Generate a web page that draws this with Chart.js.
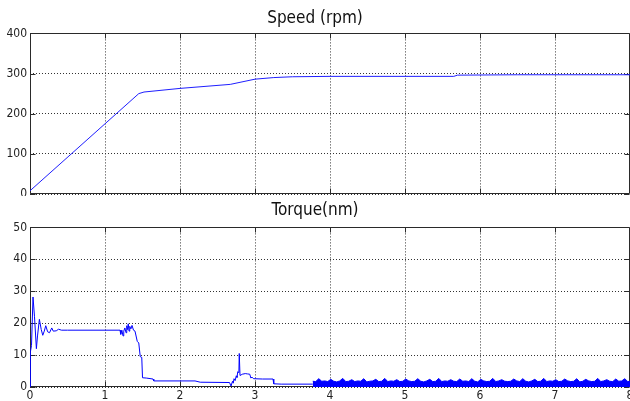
<!DOCTYPE html>
<html><head><meta charset="utf-8">
<script src="https://cdn.jsdelivr.net/npm/chart.js@4.4.1/dist/chart.umd.min.js"></script>
<style>
html,body{margin:0;padding:0;background:#fff;width:630px;height:401px;overflow:hidden}
#c1{position:absolute;left:0;top:0}
#c2{position:absolute;left:0;top:196px}
</style>
</head><body>
<canvas id="c1" width="630" height="196"></canvas>
<canvas id="c2" width="630" height="205"></canvas>
<script>
// ---- data ----
const speedTitle = "Speed (rpm)";
const torqueTitle = "Torque(nm)";
const speedT = [0, 1.45, 1.52, 2.0, 2.67, 3.0, 3.25, 3.5, 4.0, 5.65, 5.7, 6.5, 8.0];
const speedV = [8, 250, 254, 263, 273, 286, 290, 292, 293, 293, 296, 297, 297];

const torqueT = [0, 0.005, 0.02, 0.04, 0.06, 0.085, 0.10, 0.125, 0.15, 0.17, 0.19, 0.21, 0.235, 0.26, 0.29, 0.31, 0.35, 0.38, 0.42, 0.5,
  1.2, 1.21, 1.225, 1.24, 1.25, 1.265, 1.28, 1.29, 1.30, 1.31, 1.32, 1.33, 1.345, 1.36, 1.38, 1.40, 1.43, 1.45, 1.47, 1.49,
  1.50, 1.55, 1.64, 1.65, 2.2, 2.27, 2.66, 2.68, 2.70, 2.71, 2.72, 2.735, 2.75, 2.76, 2.77, 2.785, 2.79, 2.80, 2.815, 2.83,
  2.87, 2.90, 2.93, 2.945, 2.96, 2.98, 3.10, 3.24, 3.25, 3.35, 3.77];
const torqueV = [0, 11, 13, 28.2, 22, 12, 16, 21.2, 18, 16.2, 17.5, 19.2, 17.3, 17, 18.5, 17.5, 17.6, 18.1, 17.8, 17.8,
  17.8, 16.5, 17.8, 16, 17.5, 18.5, 17, 19.2, 18, 19.8, 17.5, 19, 18.2, 19.3, 17.8, 17.5, 14.3, 13.8, 9.5, 9.3,
  2.9, 2.8, 2.5, 1.9, 1.9, 1.5, 1.4, 0.3, 1.8, 1.2, 2.6, 2.0, 3.5, 3.0, 4.8, 4.5, 10.5, 3.6, 3.8, 4.0,
  4.2, 4.1, 4.0, 2.8, 3.1, 2.6, 2.5, 2.5, 1.0, 0.9, 0.9];

// steady-state ripple band (upper envelope, filled down to zero)
const bandT = [3.77, 3.81, 3.85, 3.89, 3.93, 3.97, 4.01, 4.05, 4.09, 4.13, 4.17, 4.21, 4.25, 4.29, 4.33, 4.37, 4.41, 4.45, 4.49, 4.53,
  4.57, 4.61, 4.65, 4.69, 4.73, 4.77, 4.81, 4.85, 4.89, 4.93, 4.97, 5.01, 5.05, 5.09, 5.13, 5.17, 5.21, 5.25, 5.29, 5.33,
  5.37, 5.41, 5.45, 5.49, 5.53, 5.57, 5.61, 5.65, 5.69, 5.73, 5.77, 5.81, 5.85, 5.89, 5.93, 5.97, 6.01, 6.05, 6.09, 6.13,
  6.17, 6.21, 6.25, 6.29, 6.33, 6.37, 6.41, 6.45, 6.49, 6.53, 6.57, 6.61, 6.65, 6.69, 6.73, 6.77, 6.81, 6.85, 6.89, 6.93,
  6.97, 7.01, 7.05, 7.09, 7.13, 7.17, 7.21, 7.25, 7.29, 7.33, 7.37, 7.41, 7.45, 7.49, 7.53, 7.57, 7.61, 7.65, 7.69, 7.73,
  7.77, 7.81, 7.85, 7.89, 7.93, 7.97, 8.00];
const bandV = [1.8, 1.7, 2.6, 1.8, 1.9, 1.7, 2.4, 1.8, 1.6, 1.9,
  2.7, 1.7, 1.8, 2.3, 1.7, 1.9, 1.8, 2.6, 1.6, 1.8,
  1.9, 2.4, 1.7, 1.8, 2.7, 1.7, 1.9, 1.8, 2.3, 1.7,
  1.8, 2.5, 1.9, 1.7, 1.8, 2.6, 1.8, 1.6, 1.9, 2.4,
  1.7, 1.8, 2.7, 1.7, 1.9, 1.8, 2.3, 1.8, 1.7, 2.5,
  1.8, 1.9, 1.7, 2.6, 1.8, 1.6, 2.4, 1.9, 1.7, 1.8,
  2.7, 1.7, 1.9, 2.3, 1.8, 1.7, 1.8, 2.5, 1.9, 1.7,
  2.6, 1.8, 1.6, 1.9, 2.4, 1.7, 1.8, 2.7, 1.7, 1.9,
  1.8, 2.3, 1.7, 1.8, 2.5, 1.9, 1.7, 1.8, 2.6, 1.6,
  1.8, 2.4, 1.9, 1.7, 1.8, 2.7, 1.7, 1.9, 2.3, 1.8,
  1.7, 2.5, 1.8, 1.9, 2.6, 1.7, 1.8];

const xTicks = [0, 1, 2, 3, 4, 5, 6, 7, 8];
const speedTicks = [0, 100, 200, 300, 400];
const torqueTicks = [0, 10, 20, 30, 40, 50];

// ---- rendering ----
const FONT = "'Liberation Sans Narrow', 'Arial Narrow', 'DejaVu Sans Condensed', 'Liberation Sans', sans-serif";
const pts = (xs, ys) => xs.map((x, i) => ({x, y: ys[i]}));

const framePlugin = {
  id: 'frame',
  beforeDatasetsDraw(chart) {
    const {ctx, chartArea: a, scales: {x, y}} = chart;
    ctx.save();
    ctx.strokeStyle = '#2a2a2a';
    ctx.lineWidth = 1;
    ctx.setLineDash([]);
    ctx.beginPath();
    const L = Math.round(a.left) + 0.5, R = Math.round(a.right) - 0.5;
    const T = Math.round(a.top) + 0.5, B = Math.round(a.bottom) - 0.5;
    ctx.moveTo(L, T); ctx.lineTo(R, T); ctx.lineTo(R, B); ctx.lineTo(L, B); ctx.closePath();
    x.ticks.forEach(t => {
      const px = Math.round(x.getPixelForValue(t.value)) + 0.5;
      ctx.moveTo(px, B); ctx.lineTo(px, B - 5);
      ctx.moveTo(px, T); ctx.lineTo(px, T + 5);
    });
    y.ticks.forEach(t => {
      const py = Math.round(y.getPixelForValue(t.value)) + 0.5;
      ctx.moveTo(L, py); ctx.lineTo(L + 5, py);
      ctx.moveTo(R, py); ctx.lineTo(R - 5, py);
    });
    ctx.stroke();
    ctx.restore();
  }
};

function makeOpts(title, yMax, yTickList, showX, xHeight, titlePad) {
  return {
    responsive: false,
    animation: false,
    events: [],
    layout: {padding: {left: 0, right: 0, top: 0, bottom: showX ? 0 : 2}},
    plugins: {
      legend: {display: false},
      tooltip: {enabled: false},
      filler: {propagate: false},
      title: {display: true, text: title, color: '#111', padding: titlePad,
              font: {family: FONT, size: 17, weight: 'normal'}}
    },
    scales: {
      x: {
        type: 'linear', min: 0, max: 8,
        afterBuildTicks: s => { s.ticks = xTicks.map(v => ({value: v})); },
        ticks: {display: showX, maxRotation: 0, autoSkip: false, padding: 2, color: '#222',
                font: {family: FONT, size: 12}},
        grid: {color: '#333', lineWidth: 1, drawTicks: false, borderDash: [1, 2]},
        border: {display: false, dash: [1, 2]},
        afterFit: s => { s.height = xHeight; s.paddingLeft = 0; s.paddingRight = 0; }
      },
      y: {
        type: 'linear', min: 0, max: yMax,
        afterBuildTicks: s => { s.ticks = yTickList.map(v => ({value: v})); },
        ticks: {padding: 3, color: '#222', font: {family: FONT, size: 12}},
        grid: {color: '#333', lineWidth: 1, drawTicks: false, borderDash: [1, 2]},
        border: {display: false, dash: [1, 2]},
        afterFit: s => { s.width = 30; s.paddingTop = 0; s.paddingBottom = 0; }
      }
    }
  };
}

new Chart(document.getElementById('c1'), {
  type: 'line',
  data: {datasets: [{
    data: pts(speedT, speedV), borderColor: '#1f1fff', borderWidth: 1, pointRadius: 0, tension: 0, fill: false
  }]},
  options: makeOpts(speedTitle, 400, speedTicks, false, 0, {top: 8, bottom: 5}),
  plugins: [framePlugin]
});

new Chart(document.getElementById('c2'), {
  type: 'line',
  data: {datasets: [
    {data: pts(torqueT, torqueV), borderColor: '#0000ff', borderWidth: 1, pointRadius: 0, tension: 0, fill: false},
    {data: pts(bandT, bandV), borderColor: '#0000ff', backgroundColor: '#0000ff', borderWidth: 1, pointRadius: 0, tension: 0,
     fill: 'origin'}
  ]},
  options: makeOpts(torqueTitle, 50, torqueTicks, true, 14, {top: 4, bottom: 7}),
  plugins: [framePlugin]
});
</script>
</body></html>
